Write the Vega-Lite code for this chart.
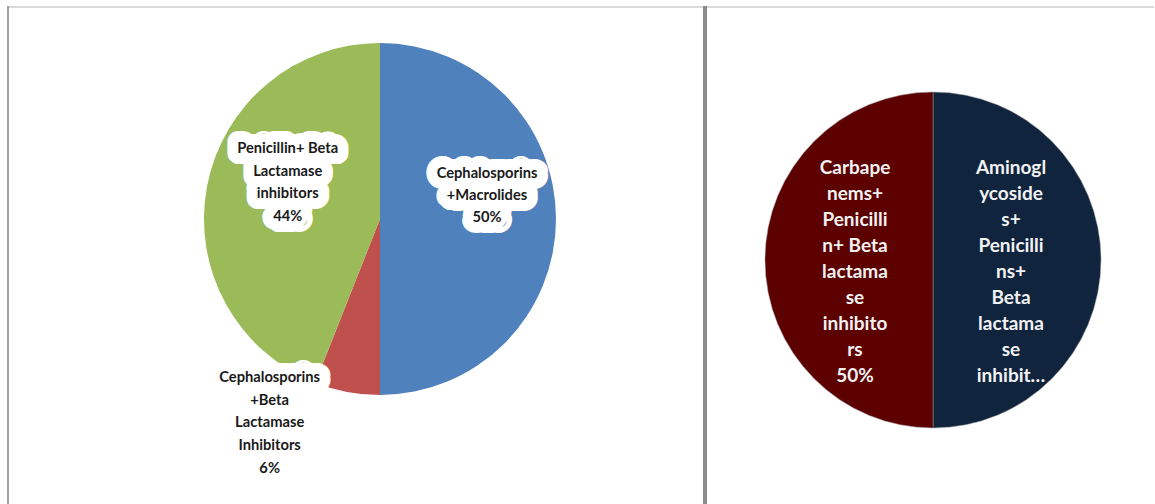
{
  "$schema": "https://vega.github.io/schema/vega-lite/v6.json",
  "padding": {"left": 7, "top": 4, "right": 0, "bottom": 0},
  "spacing": 0,
  "bounds": "flush",
  "background": "white",
  "config": {"view": {"stroke": null}, "font": "Lato"},
  "resolve": {"scale": {"color": "independent", "theta": "independent"}},
  "hconcat": [
    {
      "width": 697,
      "height": 498,
      "data": {"values": [
        {"drug": "Cephalosporins+Macrolides", "share": 50, "order": 1, "label": "Cephalosporins|+Macrolides|50%"},
        {"drug": "Cephalosporins+Beta Lactamase Inhibitors", "share": 6, "order": 2, "label": "Cephalosporins|+Beta|Lactamase|Inhibitors|6%"},
        {"drug": "Penicillin+ Beta Lactamase inhibitors", "share": 44, "order": 3, "label": "Penicillin+ Beta|Lactamase|inhibitors|44%"}
      ]},
      "layer": [
        {
          "encoding": {
            "theta": {"field": "share", "type": "quantitative", "stack": true},
            "order": {"field": "order", "type": "quantitative"},
            "detail": {"field": "drug", "type": "nominal"}
          },
          "layer": [
            {
              "mark": {"type": "arc", "outerRadius": 176, "xOffset": 23.5, "yOffset": -36},
              "encoding": {
                "color": {"field": "drug", "type": "nominal", "legend": null,
                  "scale": {"domain": ["Cephalosporins+Macrolides", "Cephalosporins+Beta Lactamase Inhibitors", "Penicillin+ Beta Lactamase inhibitors"],
                            "range": ["#4F81BD", "#C0504D", "#9BBB59"]}}
              }
            },
            {
              "mark": {"type": "text", "radius": 107, "dy": -45, "xOffset": 23.5, "yOffset": -36, "fontSize": 14.7, "fontWeight": "bold", "lineHeight": 22, "lineBreak": "|", "stroke": "white", "strokeWidth": 22, "strokeJoin": "round", "align": "center", "baseline": "middle"},
              "encoding": {"color": {"value": "white"}, "text": {"condition": {"test": "datum.drug === 'Cephalosporins+Macrolides'", "field": "label"}, "value": ""}}
            },
            {
              "mark": {"type": "text", "radius": 96, "dy": -52, "dx": 2, "xOffset": 23.5, "yOffset": -36, "fontSize": 14.7, "fontWeight": "bold", "lineHeight": 22.6, "lineBreak": "|", "stroke": "white", "strokeWidth": 22, "strokeJoin": "round", "align": "center", "baseline": "middle"},
              "encoding": {"color": {"value": "white"}, "text": {"condition": {"test": "datum.drug === 'Penicillin+ Beta Lactamase inhibitors'", "field": "label"}, "value": ""}}
            },
            {
              "mark": {"type": "text", "radius": 210, "dx": -71, "dy": -47, "xOffset": 23.5, "yOffset": -36, "fontSize": 14.7, "fontWeight": "bold", "lineHeight": 22.6, "lineBreak": "|", "stroke": "white", "strokeWidth": 22, "strokeJoin": "round", "align": "center", "baseline": "middle"},
              "encoding": {"color": {"value": "white"}, "text": {"condition": {"test": "datum.drug === 'Cephalosporins+Beta Lactamase Inhibitors'", "field": "label"}, "value": ""}}
            },
            {
              "mark": {"type": "text", "radius": 107, "dy": -45, "xOffset": 23.5, "yOffset": -36, "fontSize": 14.7, "fontWeight": "bold", "lineHeight": 22, "lineBreak": "|", "align": "center", "baseline": "middle"},
              "encoding": {"color": {"value": "#1a1a1a"}, "text": {"condition": {"test": "datum.drug === 'Cephalosporins+Macrolides'", "field": "label"}, "value": ""}}
            },
            {
              "mark": {"type": "text", "radius": 96, "dy": -52, "dx": 2, "xOffset": 23.5, "yOffset": -36, "fontSize": 14.7, "fontWeight": "bold", "lineHeight": 22.6, "lineBreak": "|", "align": "center", "baseline": "middle"},
              "encoding": {"color": {"value": "#1a1a1a"}, "text": {"condition": {"test": "datum.drug === 'Penicillin+ Beta Lactamase inhibitors'", "field": "label"}, "value": ""}}
            },
            {
              "mark": {"type": "text", "radius": 210, "dx": -71, "dy": -47, "xOffset": 23.5, "yOffset": -36, "fontSize": 14.7, "fontWeight": "bold", "lineHeight": 22.6, "lineBreak": "|", "align": "center", "baseline": "middle"},
              "encoding": {"color": {"value": "#1a1a1a"}, "text": {"condition": {"test": "datum.drug === 'Cephalosporins+Beta Lactamase Inhibitors'", "field": "label"}, "value": ""}}
            }
          ]
        },
        {
          "mark": {"type": "rule", "color": "#dadada", "strokeWidth": 2},
          "encoding": {"y": {"value": 1}}
        },
        {
          "mark": {"type": "rule", "color": "#a0a0a0", "strokeWidth": 2},
          "encoding": {"x": {"value": 0}}
        }
      ]
    },
    {
      "width": 449,
      "height": 498,
      "data": {"values": [
        {"drug": "Aminoglycosides+Penicillins+Beta lactamase inhibitors", "share": 50, "order": 1, "label": "Aminogl|ycoside|s+|Penicilli|ns+|Beta|lactama|se|inhibit…"},
        {"drug": "Carbapenems+Penicillin+ Beta lactamase inhibitors", "share": 50, "order": 2, "label": "Carbape|nems+|Penicilli|n+ Beta|lactama|se|inhibito|rs|50%"}
      ]},
      "layer": [
        {
          "encoding": {
            "theta": {"field": "share", "type": "quantitative", "stack": true},
            "order": {"field": "order", "type": "quantitative"},
            "detail": {"field": "drug", "type": "nominal"}
          },
          "layer": [
            {
              "mark": {"type": "arc", "outerRadius": 168, "xOffset": 3.5, "yOffset": 5, "stroke": "#9a9a9a", "strokeWidth": 0.5},
              "encoding": {
                "color": {"field": "drug", "type": "nominal", "legend": null,
                  "scale": {"domain": ["Aminoglycosides+Penicillins+Beta lactamase inhibitors", "Carbapenems+Penicillin+ Beta lactamase inhibitors"],
                            "range": ["#10243E", "#5C0000"]}}
              }
            },
            {
              "mark": {"type": "text", "radius": 78, "dy": -92, "xOffset": 3.5, "yOffset": 5, "fontSize": 19, "fontWeight": "bold", "lineHeight": 26, "lineBreak": "|", "align": "center", "baseline": "middle"},
              "encoding": {"color": {"value": "#f2f2f2"}, "text": {"field": "label"}}
            }
          ]
        },
        {
          "mark": {"type": "rule", "color": "#dadada", "strokeWidth": 2},
          "encoding": {"y": {"value": 1}}
        },
        {
          "mark": {"type": "rule", "color": "#8c8c8c", "strokeWidth": 4},
          "encoding": {"x": {"value": 0}}
        }
      ]
    }
  ]
}
